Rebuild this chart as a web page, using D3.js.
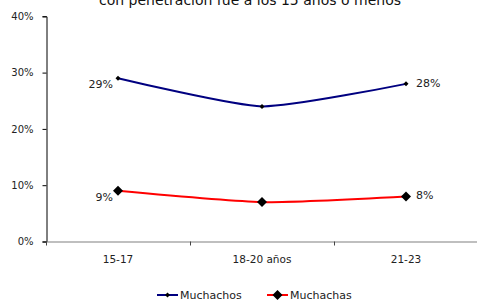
<!DOCTYPE html>
<html>
<head>
<meta charset="utf-8">
<script src="https://cdn.jsdelivr.net/npm/d3@7"></script>
<style>
  body { margin: 0; background: #fff; }
  svg text { font-family: Verdana, "DejaVu Sans", sans-serif; }
</style>
</head>
<body>
<svg id="chart"></svg>
<script>
var categories = ["15-17", "18-20 años", "21-23"]
var muchachos = [29, 24, 28]
var muchachas = [9, 7, 8]
var yTicks = [0, 10, 20, 30, 40]
var seriesNames = ["Muchachos", "Muchachas"]

var dimensions = {
    width: 477,
    height: 301,
    margin: { top: 16, bottom: 60, right: 0, left: 46 }
}

var svg = d3.select("#chart")
    .attr("width", dimensions.width)
    .attr("height", dimensions.height)

var xScale = d3.scaleBand()
    .domain(categories)
    .range([dimensions.margin.left, dimensions.width + 1 - dimensions.margin.right])

var yScale = d3.scaleLinear()
    .domain([0, 40])
    .range([dimensions.height - dimensions.margin.bottom + 0.5, dimensions.margin.top + 0.3])

// title, clipped at the top like the original
svg.append("text")
    .attr("x", 250)
    .attr("y", 5)
    .attr("text-anchor", "middle")
    .style("font-size", "14px")
    .attr("fill", "#111")
    .text("con penetración fue a los 15 años o menos")

var yAxis = d3.axisLeft(yScale)
    .tickValues(yTicks)
    .tickFormat(d => d + "%")
    .tickSize(4)
    .tickPadding(9)

var gy = svg.append("g")
    .attr("transform", "translate(" + (dimensions.margin.left + 0.5) + ",0)")
    .call(yAxis)
gy.select(".domain").attr("stroke", "#000")
gy.selectAll("text").style("font-size", "10px").attr("fill", "#222")

var xAxis = d3.axisBottom(xScale).tickSize(0).tickPadding(14)
var gx = svg.append("g")
    .attr("transform", "translate(0," + yScale(0) + ")")
    .call(xAxis)
gx.select(".domain").attr("stroke", "#808080").attr("stroke-width", 1.2)
gx.selectAll("text").style("font-size", "10.5px").attr("fill", "#222")

// tick marks between categories
svg.append("g")
    .selectAll("line")
    .data(categories)
    .enter()
    .append("line")
    .attr("x1", d => Math.round(xScale(d)) + 0.5)
    .attr("x2", d => Math.round(xScale(d)) + 0.5)
    .attr("y1", yScale(0))
    .attr("y2", yScale(0) + 4)
    .attr("stroke", "#444")

var cx = d => xScale(d) + xScale.bandwidth() / 2

var line = d3.line()
    .x((d, i) => cx(categories[i]))
    .y(d => yScale(d))
    .curve(d3.curveCardinal.tension(0.4))

svg.append("path")
    .datum(muchachos)
    .attr("d", line)
    .attr("fill", "none")
    .attr("stroke", "#000080")
    .attr("stroke-width", 2)

svg.append("path")
    .datum(muchachas)
    .attr("d", line)
    .attr("fill", "none")
    .attr("stroke", "#ff0000")
    .attr("stroke-width", 2)

function diamond(sel, r) {
    sel.attr("d", "M0," + (-r) + "L" + r + ",0L0," + r + "L" + (-r) + ",0Z")
        .attr("fill", "#000")
}

svg.append("g").selectAll("path")
    .data(muchachos)
    .enter()
    .append("path")
    .call(diamond, 2.5)
    .attr("transform", (d, i) => "translate(" + cx(categories[i]) + "," + yScale(d) + ")")

svg.append("g").selectAll("path")
    .data(muchachas)
    .enter()
    .append("path")
    .call(diamond, 5)
    .attr("transform", (d, i) => "translate(" + cx(categories[i]) + "," + yScale(d) + ")")

// data labels at the first and last points
function labels(values) {
    var first = 0, last = values.length - 1
    svg.append("text")
        .attr("x", cx(categories[first]) - 5)
        .attr("y", yScale(values[first]) + 10)
        .attr("text-anchor", "end")
        .style("font-size", "11px")
        .attr("fill", "#222")
        .text(values[first] + "%")
    svg.append("text")
        .attr("x", cx(categories[last]) + 10)
        .attr("y", yScale(values[last]) + 3)
        .style("font-size", "11px")
        .attr("fill", "#222")
        .text(values[last] + "%")
}
labels(muchachos)
labels(muchachas)

// legend
var legendItems = [
    { name: seriesNames[0], color: "#000080", r: 2.5, x: 157 },
    { name: seriesNames[1], color: "#ff0000", r: 5, x: 267 }
]
var legend = svg.append("g")
    .selectAll("g")
    .data(legendItems)
    .enter()
    .append("g")
    .attr("transform", d => "translate(" + d.x + ",295)")
legend.append("line")
    .attr("x1", 0).attr("x2", 21)
    .attr("stroke", d => d.color)
    .attr("stroke-width", 2)
legend.append("path")
    .each(function (d) { d3.select(this).call(diamond, d.r) })
    .attr("transform", "translate(10.5,0)")
legend.append("text")
    .attr("x", 23)
    .attr("y", 4)
    .style("font-size", "11px")
    .attr("fill", "#222")
    .text(d => d.name)
</script>
</body>
</html>
